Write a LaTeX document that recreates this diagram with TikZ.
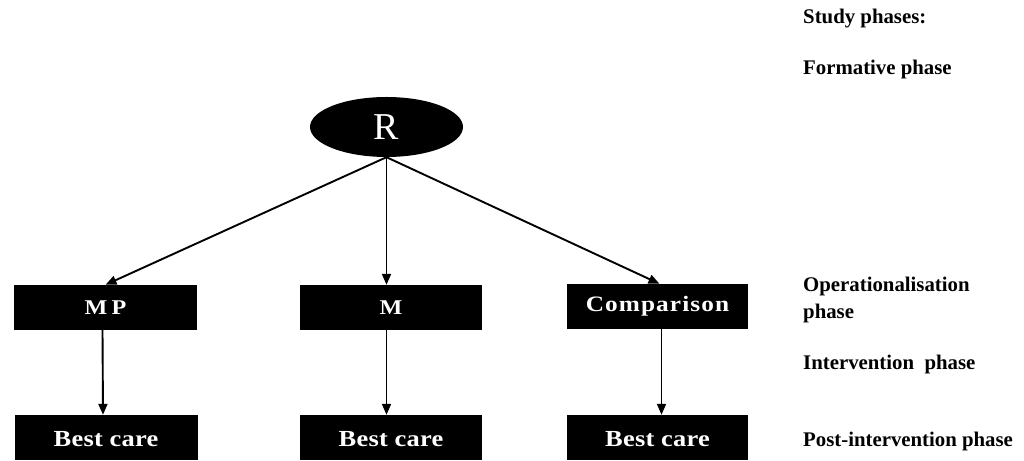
\documentclass[tikz,border=0pt]{standalone}
\usepackage{fontspec}
\setmainfont{Liberation Serif}
\usetikzlibrary{arrows.meta,shapes.geometric}
\begin{document}
\begin{tikzpicture}[x=1pt,y=1pt,
  box/.style={rectangle, fill=black, draw=none, minimum width=183pt, minimum height=45pt,
    inner sep=0pt, text=white,
    font=\fontsize{22}{26}\selectfont\bfseries\addfontfeature{FakeStretch=1.15,LetterSpace=5}},
  mpfont/.style={font=\fontsize{21}{26}\selectfont\bfseries\addfontfeature{FakeStretch=1.15,LetterSpace=20}},
  bcbox/.style={box, minimum height=0pt, text height=32pt, text depth=13pt, anchor=base,
    font=\fontsize{23}{26}\selectfont\bfseries\addfontfeature{FakeStretch=1.15,LetterSpace=1}},
  phaselabel/.style={anchor=base west, inner sep=0pt, font=\fontsize{20.8}{24}\selectfont\bfseries},
  arr/.style={line width=1.9pt, -{Triangle[length=11pt,width=9pt]}}
]
\fill[white] (0,0) rectangle (1024,460);
\useasboundingbox (0,0) rectangle (1024,460);

\node[ellipse, fill=black, minimum width=153pt, minimum height=60pt, inner sep=0pt,
  text=white, font=\fontsize{38}{40}\selectfont] (r) at (386.5,333) {R};

\node[box, mpfont] (mp) at (105.5,152.5) {MP};
\node[box, mpfont, minimum width=182pt] (m) at (391,152.5) {M};
\node[box, minimum width=181pt] (cmp) at (657.5,153.5) {Comparison};

\node[bcbox] (bc1) at (106,13) {Best care};
\node[bcbox, minimum width=182pt] (bc2) at (391,13) {Best care};
\node[bcbox, minimum width=181pt] (bc3) at (657.5,13) {Best care};

\draw[arr] (r.south) -- (mp.north);
\draw[arr] (r.south) -- (m.north -| r.south);
\draw[arr] (r.south) -- ([xshift=2pt]cmp.north);
\draw[arr] ([xshift=-3pt]mp.south) -- ([xshift=-3pt]bc1.north);
\draw[arr] (m.south -| r.south) -- (bc2.north -| r.south);
\draw[arr] ([xshift=4pt]cmp.south) -- ([xshift=4pt]bc3.north);

\node[phaselabel] (p0) at (803,436) {Study phases:};
\node[phaselabel] (p1) at (803,385) {Formative phase};
\node[phaselabel] (p2) at (803,168) {Operationalisation};
\node[phaselabel] (p2b) at (803,141) {phase};
\node[phaselabel] (p3) at (803,90) {Intervention\ \ phase};
\node[phaselabel] (p4) at (803,13) {Post-intervention phase};
\end{tikzpicture}
\end{document}
